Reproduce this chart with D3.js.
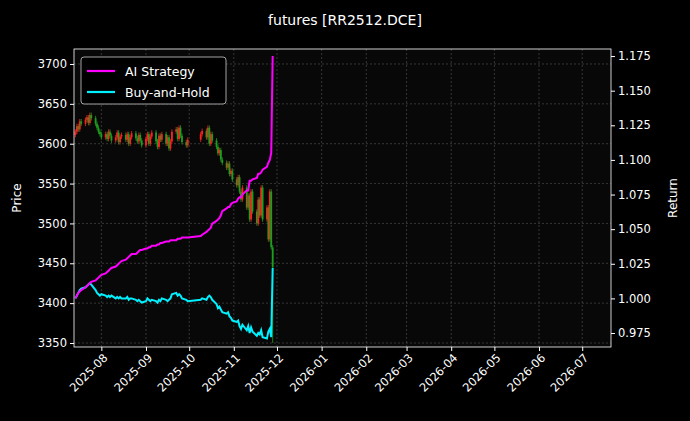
<!DOCTYPE html><html><head><meta charset="utf-8"><script src="https://cdn.jsdelivr.net/npm/d3@7"></script>
<style>body{margin:0;background:#000}text{font-family:"DejaVu Sans";fill:#fff}</style></head><body><svg id="c" width="690" height="421"></svg>
<script>
const closes=[3615,3622,3618,3628,3625,3630,3633,3626,3636,3632,3625,3620,3615,3612,3608,3612,3606,3615,3610,3604,3608,3614,3602,3609,3611,3605,3612,3600,3608,3613,3607,3603,3611,3604,3598,3606,3612,3600,3609,3614,3603,3596,3610,3605,3612,3600,3608,3594,3603,3615,3618,3606,3620,3610,3602,3598,3605,3612,3616,3608,3620,3600,3612,3604,3596,3588,3592,3580,3576,3570,3575,3562,3566,3555,3548,3558,3540,3530,3545,3520,3535,3505,3540,3515,3500,3530,3510,3545,3505,3520,3480,3540,3470,3445];
const strategy=[1.000,1.002,1.004,1.005,1.006,1.008,1.009,1.010,1.011,1.012,1.013,1.014,1.015,1.016,1.017,1.018,1.019,1.020,1.021,1.022,1.023,1.024,1.025,1.026,1.027,1.028,1.029,1.030,1.031,1.032,1.032,1.033,1.034,1.035,1.035,1.036,1.036,1.037,1.037,1.038,1.038,1.039,1.039,1.040,1.040,1.041,1.041,1.041,1.042,1.042,1.042,1.043,1.043,1.043,1.044,1.044,1.044,1.045,1.046,1.048,1.049,1.050,1.051,1.054,1.056,1.057,1.058,1.060,1.063,1.065,1.066,1.066,1.068,1.069,1.070,1.072,1.073,1.073,1.075,1.078,1.078,1.085,1.085,1.086,1.087,1.090,1.090,1.091,1.093,1.095,1.098,1.100,1.105,1.175];
const buyhold=[1.000,1.002,1.004,1.006,1.007,1.008,1.009,1.010,1.011,1.010,1.006,1.004,1.003,1.002,1.003,1.002,1.001,1.002,1.001,1.002,1.000,1.001,1.000,1.001,1.000,1.000,1.001,0.999,1.000,1.000,0.999,0.998,0.999,0.998,0.997,0.998,1.000,0.999,0.998,0.999,0.998,0.997,0.999,0.998,1.000,0.999,0.998,0.999,1.000,1.003,1.004,1.002,1.003,1.002,1.000,0.999,0.998,0.999,1.000,0.999,1.001,1.002,1.001,0.999,0.996,0.993,0.994,0.992,0.990,0.989,0.990,0.987,0.986,0.984,0.983,0.984,0.980,0.978,0.981,0.977,0.980,0.975,0.979,0.976,0.973,0.975,0.974,0.977,0.972,0.971,0.976,0.978,0.972,1.022];
const priceTicks=[3350,3400,3450,3500,3550,3600,3650,3700];
const retTicks=[0.975,1.000,1.025,1.050,1.075,1.100,1.125,1.150,1.175];
const dates=[];for(let d=new Date(2025,6,14);d<=new Date(2025,10,28);d.setDate(d.getDate()+1)){const w=d.getDay();if(w==0||w==6)continue;if(d.getMonth()==9&&d.getDate()<=8)continue;dates.push(new Date(d));}
const svg=d3.select("#c");
const L=74,R=611,T=49,B=347;
const x=d3.scaleTime().domain([new Date(2025,6,13),new Date(2026,6,21)]).range([L,R]);
const y=d3.scaleLinear().domain([3345,3718.8]).range([B,T]);
const y2=d3.scaleLinear().domain([0.9649,1.1801]).range([B,T]);
svg.append("rect").attr("x",L).attr("y",T).attr("width",R-L).attr("height",B-T).attr("fill","#080808");
const months=d3.timeMonth.range(new Date(2025,7,1),new Date(2026,6,2));
const g=svg.append("g").attr("stroke","#555").attr("stroke-dasharray","2,2").attr("stroke-width",0.6);
months.forEach(m=>g.append("line").attr("x1",x(m)).attr("x2",x(m)).attr("y1",T).attr("y2",B));
priceTicks.forEach(v=>g.append("line").attr("x1",L).attr("x2",R).attr("y1",y(v)).attr("y2",y(v)));
const cg=svg.append("g");
closes.forEach((c,i)=>{const o=i?closes[i-1]:c-4;const col=c>=o?"#ff2020":"#1e9e1e";const X=x(dates[i]);
 const hi=Math.max(o,c)+3, lo=(i==closes.length-1)?3350:Math.min(o,c)-3;
 cg.append("line").attr("x1",X).attr("x2",X).attr("y1",y(hi)).attr("y2",y(lo)).attr("stroke",col).attr("stroke-width",0.8);
 cg.append("rect").attr("x",X-0.9).attr("width",1.8).attr("y",y(Math.max(o,c))).attr("height",Math.max(0.8,Math.abs(y(o)-y(c)))).attr("fill",col);});
const line=arr=>d3.line().x((d,i)=>x(dates[i])).y(d=>y2(d))(arr);
svg.append("path").attr("d",line(buyhold)).attr("fill","none").attr("stroke","#00f0ff").attr("stroke-width",2);
svg.append("path").attr("d",line(strategy)).attr("fill","none").attr("stroke","#ff00ff").attr("stroke-width",2);
svg.append("rect").attr("x",L).attr("y",T).attr("width",R-L).attr("height",B-T).attr("fill","none").attr("stroke","#fff").attr("stroke-width",0.8);
const ax=svg.append("g").attr("transform",`translate(0,${B})`).call(d3.axisBottom(x).tickValues(months).tickFormat(d3.timeFormat("%Y-%m")).tickSize(4));
ax.selectAll("text").attr("font-size",11.5).attr("text-anchor","end").attr("transform","rotate(-45)").attr("dx","-0.3em").attr("dy","0.5em");
const ay=svg.append("g").attr("transform",`translate(${L},0)`).call(d3.axisLeft(y).tickValues(priceTicks).tickFormat(d3.format("d")).tickSize(4));
ay.selectAll("text").attr("font-size",11.5);
const ay2=svg.append("g").attr("transform",`translate(${R},0)`).call(d3.axisRight(y2).tickValues(retTicks).tickFormat(d3.format(".3f")).tickSize(4));
ay2.selectAll("text").attr("font-size",11.5);
svg.selectAll(".domain").remove();svg.selectAll(".tick line").attr("stroke","#fff");
svg.append("text").attr("x",345).attr("y",25).attr("text-anchor","middle").attr("font-size",14).text("futures [RR2512.DCE]");
svg.append("text").attr("transform","translate(21,198) rotate(-90)").attr("text-anchor","middle").attr("font-size",12).text("Price");
svg.append("text").attr("transform","translate(677,198) rotate(-90)").attr("text-anchor","middle").attr("font-size",12).text("Return");
const lg=svg.append("g");
lg.append("rect").attr("x",81).attr("y",57).attr("width",145).attr("height",47).attr("rx",3).attr("fill","#000").attr("stroke","#ccc").attr("stroke-width",0.8);
[["AI Strategy","#ff00ff"],["Buy-and-Hold","#00f0ff"]].forEach((e,i)=>{const yy=71+i*21;
 lg.append("line").attr("x1",87).attr("x2",115).attr("y1",yy).attr("y2",yy).attr("stroke",e[1]).attr("stroke-width",2.2);
 lg.append("text").attr("x",125).attr("y",yy+4.5).attr("font-size",12.5).text(e[0]);});
</script></body></html>
